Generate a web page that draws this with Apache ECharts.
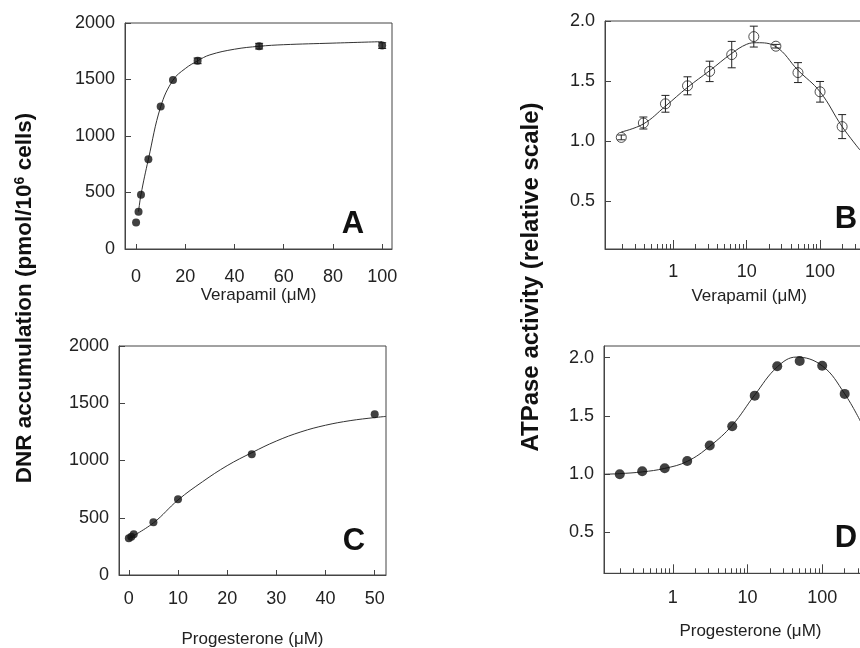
<!DOCTYPE html>
<html>
<head>
<meta charset="utf-8">
<script src="https://cdn.jsdelivr.net/npm/echarts/dist/echarts.min.js"></script>
<style>
  html, body { margin: 0; padding: 0; background: #fff; }
  #chart { width: 860px; height: 648px; }
</style>
</head>
<body>
<div id="chart"></div>
<script>
// ---------- Panel A: DNR accumulation vs Verapamil ----------
const aX = [0, 1, 2, 5, 10, 15, 25, 50, 100];
const aY = [235, 330, 480, 795, 1260, 1495, 1665, 1795, 1800];
const aErr = [0, 0, 0, 0, 0, 0, 25, 25, 25];
const aFitX = [1, 2, 5, 10, 15, 20, 25, 30, 40, 50, 60, 80, 100];
const aFitY = [330, 482, 794, 1259, 1494, 1597, 1665, 1718, 1768, 1794, 1808, 1822, 1835];
const aXTicks = [0, 20, 40, 60, 80, 100];

// ---------- Panel C: DNR accumulation vs Progesterone ----------
const cX = [0, 0.5, 1, 5, 10, 25, 50];
const cY = [320, 335, 355, 460, 661, 1054, 1403];
const cFitX = [0, 5, 10, 15, 20, 25, 30, 35, 40, 45, 50, 52.3];
const cFitY = [320, 455, 655, 815, 955, 1068, 1170, 1250, 1308, 1348, 1375, 1385];
const cXTicks = [0, 10, 20, 30, 40, 50];

// ---------- Panel B: ATPase activity vs Verapamil ----------
const bX = [0.195, 0.39, 0.78, 1.56, 3.125, 6.25, 12.5, 25, 50, 100, 200];
const bY = [1.03, 1.15, 1.31, 1.46, 1.58, 1.72, 1.87, 1.79, 1.57, 1.41, 1.12];
const bErr = [0.02, 0.05, 0.07, 0.075, 0.085, 0.11, 0.087, 0.015, 0.083, 0.086, 0.10];
const bFitX = [0.195, 0.39, 0.78, 1.56, 3.125, 6.25, 10, 13.7, 25, 50, 100, 200, 350];
const bFitY = [1.075, 1.142, 1.29, 1.447, 1.586, 1.73, 1.806, 1.819, 1.786, 1.59, 1.41, 1.12, 0.925];

// ---------- Panel D: ATPase activity vs Progesterone ----------
const dX = [0.195, 0.39, 0.78, 1.56, 3.125, 6.25, 12.5, 25, 50, 100, 200];
const dY = [1.0, 1.026, 1.051, 1.114, 1.246, 1.411, 1.674, 1.926, 1.971, 1.931, 1.689];
const dFitX = [0.12, 0.195, 0.39, 0.78, 1.56, 3.125, 6.25, 12.5, 25, 45, 100, 200, 340];
const dFitY = [1.0, 1.005, 1.02, 1.05, 1.11, 1.24, 1.42, 1.68, 1.92, 2.005, 1.93, 1.69, 1.43];

// ---------- tick labels ----------
const dnrYTicks = [0, 500, 1000, 1500, 2000];
const atpYTicks = [0.5, 1.0, 1.5, 2.0];
const logLabelTicks = [1, 10, 100];
const logMajorTicks = [1, 10, 100, 1000];
const logMinorTicks = [0.2, 0.3, 0.4, 0.5, 0.6, 0.7, 0.8, 0.9,
                       2, 3, 4, 5, 6, 7, 8, 9,
                       20, 30, 40, 50, 60, 70, 80, 90,
                       200, 300, 400, 500, 600, 700, 800, 900];

const FONT = "'Liberation Sans', Arial, Helvetica, sans-serif";
const INK = '#222';
const LINE = '#333';

const zip = (xs, ys) => xs.map((x, i) => [x, ys[i]]);

function gridBox(left, top, width, height) {
  return { left, top, width, height, show: true, borderColor: '#444', borderWidth: 1,
           backgroundColor: 'rgba(0,0,0,0)', containLabel: false, outerBoundsMode: 'none' };
}

const labelStyle = { color: INK, fontSize: 18, fontFamily: FONT };
const nameStyle = { color: INK, fontSize: 17, fontFamily: FONT };
const axisLineDef = { show: true, onZero: false, lineStyle: { color: '#444', width: 1 } };

function valueX(gridIndex, min, max, ticks, name, nameGap, margin) {
  return {
    type: 'value', gridIndex, min, max, position: 'bottom',
    axisLine: axisLineDef,
    axisTick: { show: true, inside: true, length: 5, customValues: ticks, lineStyle: { color: '#444' } },
    axisLabel: Object.assign({ customValues: ticks, margin }, labelStyle),
    splitLine: { show: false },
    name, nameLocation: 'middle', nameGap, nameTextStyle: nameStyle
  };
}
function logX(gridIndex, min, max, name, nameGap, margin) {
  return {
    type: 'log', logBase: 10, gridIndex, min, max, position: 'bottom',
    axisLine: axisLineDef,
    axisTick: { show: true, inside: true, length: 9, customValues: logMajorTicks, lineStyle: { color: '#444' } },
    axisLabel: Object.assign({ customValues: logLabelTicks, margin, formatter: v => String(v) }, labelStyle),
    splitLine: { show: false }, minorTick: { show: false },
    name, nameLocation: 'middle', nameGap, nameTextStyle: nameStyle
  };
}
function logMinorX(gridIndex, min, max) {
  return {
    type: 'log', logBase: 10, gridIndex, min, max, position: 'bottom', offset: 0,
    axisLine: { show: false, onZero: false },
    axisTick: { show: true, inside: true, length: 5, customValues: logMinorTicks, lineStyle: { color: '#444' } },
    axisLabel: { show: false },
    splitLine: { show: false }
  };
}
function yAxisDef(gridIndex, min, max, ticks, fmt) {
  return {
    type: 'value', gridIndex, min, max, position: 'left',
    axisLine: axisLineDef,
    axisTick: { show: true, inside: true, length: 6, customValues: ticks, lineStyle: { color: '#444' } },
    axisLabel: Object.assign({ customValues: ticks, margin: 10, formatter: fmt }, labelStyle),
    splitLine: { show: false }
  };
}

function curve(xi, yi, xs, ys) {
  return { type: 'line', xAxisIndex: xi, yAxisIndex: yi, data: zip(xs, ys), smooth: 0.4,
           showSymbol: false, symbol: 'none', lineStyle: { color: LINE, width: 1 }, z: 2, silent: true };
}
function dots(xi, yi, xs, ys, size, hollow) {
  return { type: 'scatter', xAxisIndex: xi, yAxisIndex: yi, data: zip(xs, ys), symbol: 'circle', symbolSize: size,
           itemStyle: hollow ? { color: 'rgba(0,0,0,0)', borderColor: '#222', borderWidth: 1 } : { color: '#111' },
           z: 4, silent: true };
}
function errBars(xi, yi, xs, ys, errs, cap) {
  const data = [];
  xs.forEach((x, i) => { if (errs[i] > 0) data.push([x, ys[i] - errs[i], ys[i] + errs[i]]); });
  return {
    type: 'custom', xAxisIndex: xi, yAxisIndex: yi, data, z: 3, silent: true,
    encode: { x: 0, y: [1, 2] },
    renderItem(params, api) {
      const x = api.value(0);
      const lo = api.coord([x, api.value(1)]);
      const hi = api.coord([x, api.value(2)]);
      const st = { stroke: '#222', lineWidth: 1 };
      return { type: 'group', children: [
        { type: 'line', shape: { x1: lo[0], y1: lo[1], x2: hi[0], y2: hi[1] }, style: st },
        { type: 'line', shape: { x1: lo[0] - cap, y1: lo[1], x2: lo[0] + cap, y2: lo[1] }, style: st },
        { type: 'line', shape: { x1: hi[0] - cap, y1: hi[1], x2: hi[0] + cap, y2: hi[1] }, style: st }
      ]};
    }
  };
}

function panelLetter(t, x, y) {
  return { type: 'text', x, y, z: 10,
           style: { text: t, font: 'bold 31px ' + FONT, fill: '#111',
                    align: 'center', verticalAlign: 'middle', textAlign: 'center', textVerticalAlign: 'middle' } };
}

const chart = echarts.init(document.getElementById('chart'), null, { renderer: 'canvas' });
chart.setOption({
  backgroundColor: '#fff',
  animation: false,
  grid: [
    gridBox(125, 23, 267, 226),
    gridBox(605, 21, 288.4, 228),
    gridBox(119, 346, 267, 229),
    gridBox(604, 346, 292.9, 227.3)
  ],
  xAxis: [
    valueX(0, -4.5, 104, aXTicks, 'Verapamil (μM)', 35, 19),
    logX(1, 0.117, 1000, 'Verapamil (μM)', 39, 14),
    logMinorX(1, 0.117, 1000),
    valueX(2, -2, 52.3, cXTicks, 'Progesterone (μM)', 56, 15),
    logX(3, 0.12, 1000, 'Progesterone (μM)', 50, 16),
    logMinorX(3, 0.12, 1000)
  ],
  yAxis: [
    yAxisDef(0, 0, 2000, dnrYTicks, v => String(v)),
    yAxisDef(1, 0.1, 2.0, atpYTicks, v => v.toFixed(1)),
    yAxisDef(2, 0, 2000, dnrYTicks, v => String(v)),
    yAxisDef(3, 0.15, 2.1, atpYTicks, v => v.toFixed(1))
  ],
  series: [
    curve(0, 0, aFitX, aFitY),
    errBars(0, 0, aX, aY, aErr, 4),
    dots(0, 0, aX, aY, 8, false),

    curve(1, 1, bFitX, bFitY),
    errBars(1, 1, bX, bY, bErr, 4),
    dots(1, 1, bX, bY, 10, true),

    curve(3, 2, cFitX, cFitY),
    dots(3, 2, cX, cY, 8, false),

    curve(4, 3, dFitX, dFitY),
    dots(4, 3, dX, dY, 10, false)
  ],
  graphic: [
    panelLetter('A', 353, 224),
    panelLetter('B', 846, 219),
    panelLetter('C', 354, 541),
    panelLetter('D', 846, 538),
    { type: 'text', x: 25, y: 298, rotation: Math.PI / 2, z: 10,
      style: { text: 'DNR accumulation (pmol/10{sup|6} cells)', font: 'bold 22.5px ' + FONT, fill: '#111',
               align: 'center', verticalAlign: 'middle', textAlign: 'center', textVerticalAlign: 'middle',
               rich: { sup: { fontSize: 14, fontWeight: 'bold', fontFamily: FONT, fill: '#111', color: '#111', verticalAlign: 'top', padding: [0, 0, 6, 0] } } } },
    { type: 'text', x: 531, y: 277, rotation: Math.PI / 2, z: 10,
      style: { text: 'ATPase activity (relative scale)', font: 'bold 24px ' + FONT, fill: '#111',
               align: 'center', verticalAlign: 'middle', textAlign: 'center', textVerticalAlign: 'middle' } }
  ]
});
</script>
</body>
</html>
